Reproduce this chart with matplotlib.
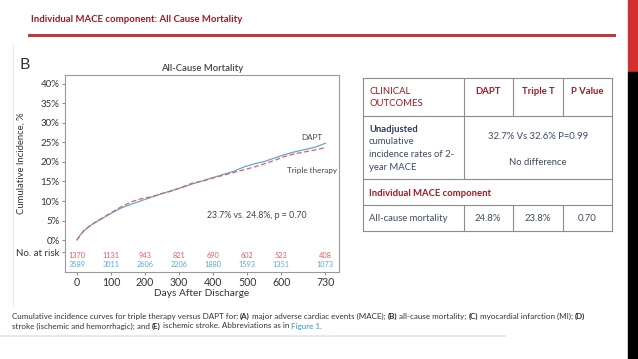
import matplotlib
matplotlib.use("Agg")
import matplotlib.pyplot as plt
from matplotlib.lines import Line2D
from matplotlib.patches import Rectangle

W, H = 638, 359
fig = plt.figure(figsize=(W / 100, H / 100), dpi=100)
plt.rcParams['font.family'] = ['Lato', 'DejaVu Sans']

def fx(px):
    return px / W

def fy(py):
    return 1 - py / H

# ---------------- data ----------------
days = [0, 10, 20, 40, 60, 80, 100, 130, 160, 190, 220, 250, 280, 310, 340,
        370, 400, 430, 460, 490, 520, 550, 580, 610, 640, 670, 700, 730]
dapt = [0, 1.3, 2.3, 3.7, 4.8, 5.8, 6.8, 8.2, 9.2, 10.1, 11.0, 11.9, 12.7, 13.5,
        14.4, 15.2, 16.0, 16.8, 17.6, 18.7, 19.5, 20.1, 21.0, 21.9, 22.6, 23.2, 23.8, 24.8]
triple = [0, 1.3, 2.4, 3.8, 4.9, 5.9, 7.0, 8.5, 9.8, 10.6, 11.1, 11.9, 12.6, 13.6,
          14.6, 15.1, 15.9, 16.6, 17.3, 18.0, 18.7, 19.5, 20.4, 21.4, 22.1, 22.6, 23.1, 23.7]
risk_days = [0, 100, 200, 300, 400, 500, 600, 730]
risk_triple = ["1370", "1131", "943", "821", "690", "602", "523", "408"]
risk_dapt = ["3589", "3011", "2606", "2206", "1880", "1593", "1351", "1073"]
yticks = [0, 5, 10, 15, 20, 25, 30, 35, 40]
xticks = [0, 100, 200, 300, 400, 500, 600, 730]

table_header = ["CLINICAL\nOUTCOMES", "DAPT", "Triple T", "P Value"]
row_mort = ["All-cause mortality", "24.8%", "23.8%", "0.70"]

BLUE = "#5BA8D8"
RED = "#E0605E"
DARKRED = "#9E1B1F"
NAVY = "#2B3A5C"

# ---------------- slide decorations ----------------
fig.patches.append(Rectangle((fx(628), fy(72)), fx(10), 72 / H, transform=fig.transFigure,
                             color="#D32F2F", zorder=5))
fig.patches.append(Rectangle((fx(628), 0), fx(10), fy(72), transform=fig.transFigure,
                             color="black", zorder=5))
fig.text(fx(31), fy(20), "Individual MACE component: All Cause Mortality", color=DARKRED,
         fontsize=6.9, fontweight="bold", va="center", ha="left")
fig.lines.append(Line2D([fx(29), fx(614)], [fy(35), fy(35)], transform=fig.transFigure,
                        color="#C0393B", lw=2.2))
# faint panel border
fig.lines.append(Line2D([fx(13), fx(13)], [fy(45), fy(305)], transform=fig.transFigure,
                        color="#e8e8e8", lw=0.8))
fig.lines.append(Line2D([fx(0), fx(505)], [fy(336), fy(336)], transform=fig.transFigure,
                        color="#e4e4e4", lw=1.2))

# ---------------- chart ----------------
ax = fig.add_axes([fx(65), fy(272), fx(339 - 65), (272 - 75) / H])
ax.plot(days, dapt, color=BLUE, lw=0.9)
ax.plot(days, triple, color=RED, lw=0.9, ls=(0, (4, 2)))
ax.set_xlim(-35, 770)
ax.set_ylim(-8.2, 42.3)
for s in ax.spines.values():
    s.set_color("#9a9a9a")
    s.set_linewidth(0.8)
ax.set_yticks(yticks + [-3.1])
ax.set_yticklabels([f"{v}%" for v in yticks] + ["No. at risk"])
ax.set_xticks(xticks)
ax.set_xticklabels([str(v) for v in xticks])
ax.tick_params(axis="y", direction="out", length=2.5, width=0.6, color="#777777",
               labelsize=7, labelcolor="#333333", pad=1.5)
ax.tick_params(axis="x", direction="out", length=2.5, width=0.6, color="#777777",
               labelsize=7.6, labelcolor="#333333", pad=1.2)
ax.set_xlabel("Days After Discharge", fontsize=7.3, color="#333333", labelpad=0.5)
fig.text(fx(21), fy(163), "Cumulative Incidence, %", rotation=90, fontsize=6.8,
         color="#333333", ha="center", va="center")
fig.text(fx(25), fy(65), "B", fontsize=11.5, color="#333333", ha="center", va="center")
ax.set_title("All-Cause Mortality", fontsize=6.8, color="#444444", pad=3, fontweight="semibold")

for d, r, b in zip(risk_days, risk_triple, risk_dapt):
    ax.text(d, -3.95, r, color=RED, fontsize=5.3, ha="center", va="center")
    ax.text(d, -6.25, b, color=BLUE, fontsize=5.3, ha="center", va="center")

ax.text(690, 26.3, "DAPT", fontsize=5.8, color="#444444", ha="center", va="center")
ax.text(690, 17.8, "Triple therapy", fontsize=5.8, color="#444444", ha="center", va="center")
ax.text(530, 6.2, "23.7% vs. 24.8%, p = 0.70", fontsize=6.3, color="#444444",
        ha="center", va="center")

# ---------------- table ----------------
TL, TR, TT, TB = 363, 612, 78, 231
hlines = [78, 116, 179, 205, 231]
GRID = "#8c8c8c"
for yy in hlines:
    fig.lines.append(Line2D([fx(TL), fx(TR)], [fy(yy), fy(yy)], transform=fig.transFigure,
                            color=GRID, lw=0.8))
for xx in [TL, TR]:
    fig.lines.append(Line2D([fx(xx), fx(xx)], [fy(TT), fy(TB)], transform=fig.transFigure,
                            color=GRID, lw=0.8))
for xx in [464]:
    for (a, b) in [(78, 179), (205, 231)]:
        fig.lines.append(Line2D([fx(xx), fx(xx)], [fy(a), fy(b)], transform=fig.transFigure,
                                color=GRID, lw=0.8))
for xx in [513, 563]:
    for (a, b) in [(78, 116), (205, 231)]:
        fig.lines.append(Line2D([fx(xx), fx(xx)], [fy(a), fy(b)], transform=fig.transFigure,
                                color=GRID, lw=0.8))

TFS = 6.8
h0, h1 = table_header[0].split("\n")
fig.text(fx(369), fy(91), h0, color=DARKRED, fontsize=TFS, va="center")
fig.text(fx(369), fy(103), h1, color=DARKRED, fontsize=TFS, va="center")
for cx, t in zip([488, 538, 587], table_header[1:]):
    fig.text(fx(cx), fy(91), t, color=DARKRED, fontsize=TFS, fontweight="bold",
             ha="center", va="center")
fig.text(fx(369), fy(130), "Unadjusted", color=NAVY, fontsize=TFS, fontweight="bold", va="center")
for yy, t in zip([142, 155, 167], ["cumulative", "incidence rates of 2-", "year MACE"]):
    fig.text(fx(369), fy(yy), t, color="#3d4a66", fontsize=TFS, va="center")
fig.text(fx(538), fy(136), "32.7% Vs 32.6% P=0.99", color="#3d4a66", fontsize=TFS,
         ha="center", va="center")
fig.text(fx(538), fy(162), "No difference", color="#3d4a66", fontsize=TFS,
         ha="center", va="center")
fig.text(fx(369), fy(193), "Individual MACE component", color=DARKRED, fontsize=TFS,
         fontweight="bold", va="center")
fig.text(fx(369), fy(218), row_mort[0], color="#3d4a66", fontsize=TFS, va="center")
for cx, t in zip([488, 538, 587], row_mort[1:]):
    fig.text(fx(cx), fy(218), t, color="#3d4a66", fontsize=TFS, ha="center", va="center")

# ---------------- caption ----------------
renderer = fig.canvas.get_renderer()

def runs(x0, y0, parts, fs=5.8):
    x = fx(x0)
    for txt, bold, col in parts:
        t = fig.text(x, fy(y0), txt, fontsize=fs, color=col,
                     fontweight="bold" if bold else "normal", va="center", ha="left")
        probe = fig.text(0, 0, txt.replace(" ", "\u00a0") + "|", fontsize=fs,
                         fontweight="bold" if bold else "normal")
        bar = fig.text(0, 0, "|", fontsize=fs, fontweight="bold" if bold else "normal")
        wdt = probe.get_window_extent(renderer=renderer).width - \
            bar.get_window_extent(renderer=renderer).width
        probe.remove()
        bar.remove()
        x += wdt / W

CC = "#333333"
runs(12, 316, [
    ("Cumulative incidence curves for triple therapy versus DAPT for: ", False, CC),
    ("(A)", True, CC), (" major adverse cardiac events (MACE); ", False, CC),
    ("(B)", True, CC), (" all-cause mortality; ", False, CC),
    ("(C)", True, CC), (" myocardial infarction (MI); ", False, CC),
    ("(D)", True, CC)])
runs(12, 326, [
    ("stroke (ischemic and hemorrhagic); and ", False, CC),
    ("(E)", True, CC), (" ischemic stroke. Abbreviations as in ", False, CC),
    ("Figure 1.", False, "#2A9AC8")])

fig.savefig("out.png", dpi=100)
